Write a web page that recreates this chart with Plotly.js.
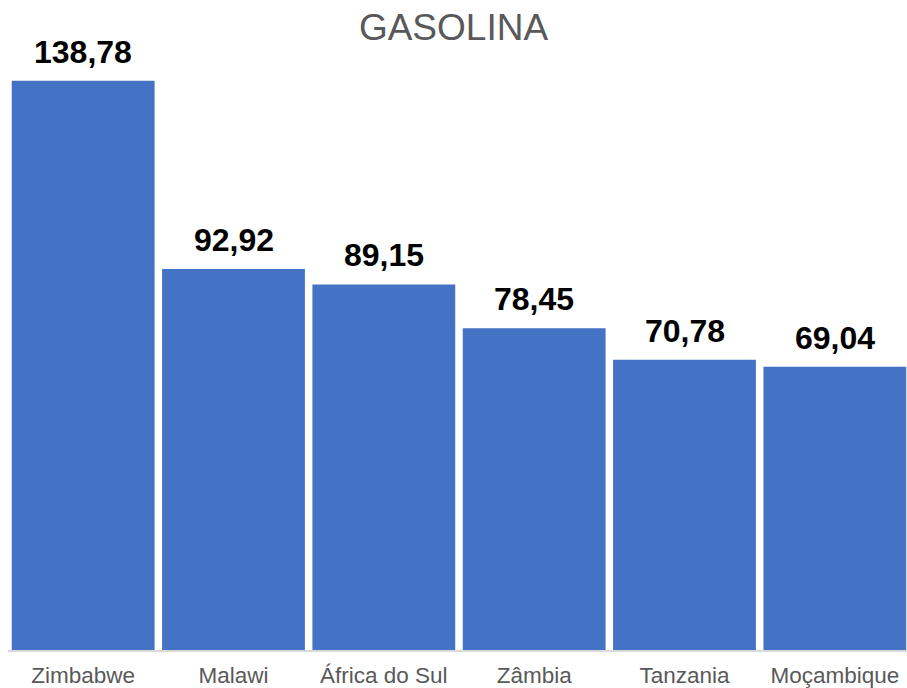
<!DOCTYPE html>
<html>
<head>
<meta charset="utf-8">
<script src="https://cdn.plot.ly/plotly-3.0.1.min.js"></script>
<style>html,body{margin:0;padding:0;background:#fff;}#chart{width:907px;height:688px;}</style>
</head>
<body>
<div id="chart"></div>
<script>
const categories = ["Zimbabwe", "Malawi", "África do Sul", "Zâmbia", "Tanzania", "Moçambique"];
const values = [138.78, 92.92, 89.15, 78.45, 70.78, 69.04];
const valueLabels = ["138,78", "92,92", "89,15", "78,45", "70,78", "69,04"];

const trace = {
  type: "bar",
  x: categories,
  y: values,
  marker: {color: "#4472C4"},
  hoverinfo: "x+y"
};

const annotations = categories.map((c, i) => ({
  x: c, y: values[i], xref: "x", yref: "y",
  text: valueLabels[i], showarrow: false,
  yanchor: "bottom", yshift: 9,
  font: {family: "Liberation Sans, Arial, sans-serif", size: 32, color: "#000000", weight: "bold"}
}));

const layout = {
  width: 907, height: 688,
  margin: {l: 8, r: 0, t: 50, b: 38},
  paper_bgcolor: "#ffffff", plot_bgcolor: "#ffffff",
  title: {text: "GASOLINA", x: 0.5, xanchor: "center", y: 0.96, yanchor: "middle",
          font: {family: "Liberation Sans, Arial, sans-serif", size: 37, color: "#595959"}},
  bargap: 0.05,
  showlegend: false,
  xaxis: {
    type: "category",
    range: [-0.5, 5.48],
    showgrid: false, zeroline: false,
    showline: true, linecolor: "#d9d9d9", linewidth: 1.5,
    ticks: "", ticklabelstandoff: 4,
    tickfont: {family: "Liberation Sans, Arial, sans-serif", size: 22.5, color: "#595959"}
  },
  yaxis: {
    range: [0, 146.3],
    visible: false, showgrid: false, zeroline: false
  },
  annotations: annotations
};

Plotly.newPlot("chart", [trace], layout, {displayModeBar: false, staticPlot: true});
</script>
</body>
</html>
